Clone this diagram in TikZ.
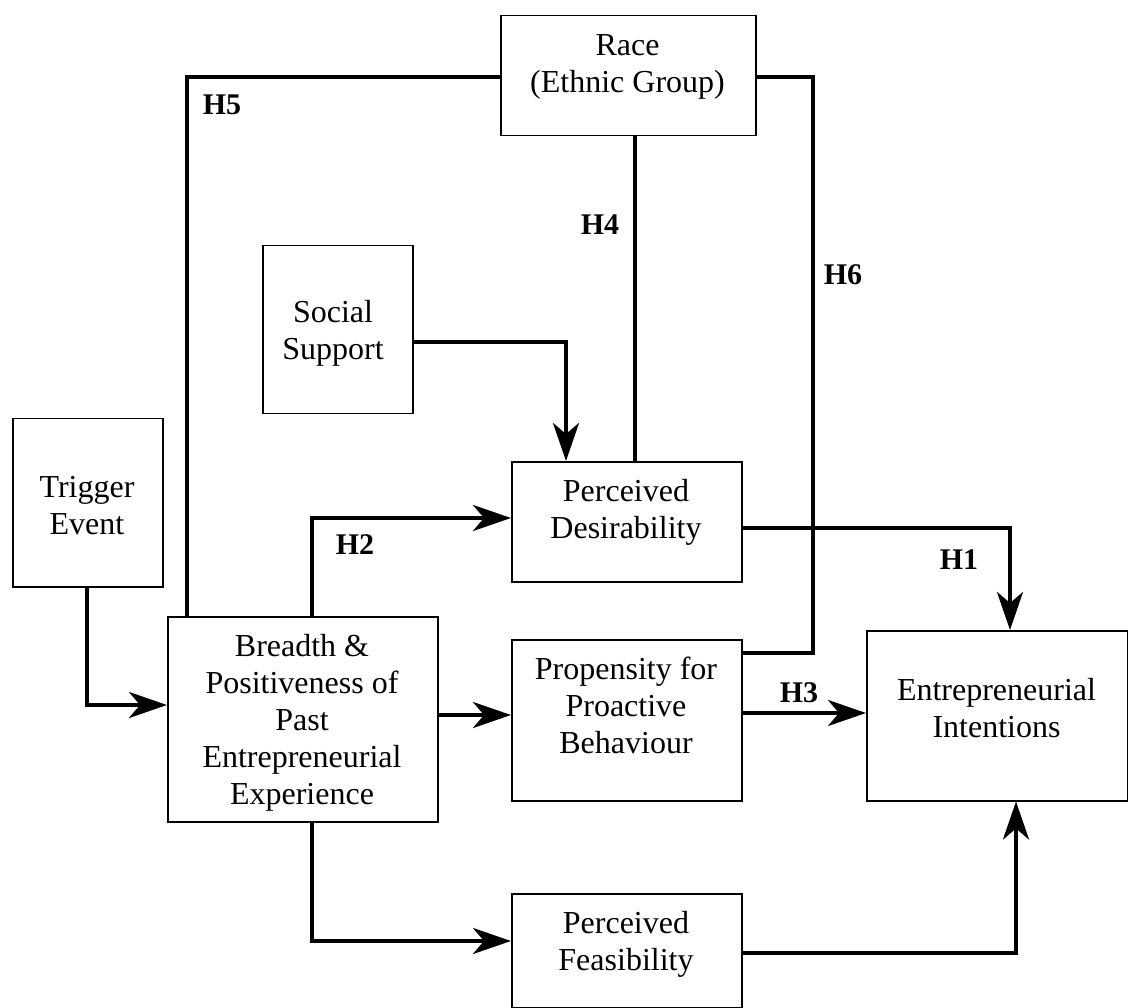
\documentclass[tikz,border=0pt]{standalone}
\usepackage{fontspec}
\setmainfont{Liberation Serif}
\usetikzlibrary{arrows.meta}
\begin{document}
\begin{tikzpicture}[x=1pt,y=-1pt,
  box/.style={draw, line width=1.5pt, inner sep=0pt, anchor=north west},
  txt/.style={align=center, anchor=base, inner sep=0pt, font=\fontsize{32}{37}\selectfont},
  hlab/.style={inner sep=0pt, font=\fontsize{30}{36}\selectfont\bfseries},
  conn/.style={line width=4pt},
  arr/.style={conn, -{Stealth[length=38pt,width=26pt,inset=11pt]}}]
\path[use as bounding box] (0,0) rectangle (1128,1008);
% boxes (text nodes are anchored at the baseline of their last line)
\node[box, minimum width=255pt, minimum height=120pt] (race) at (500,15) {};
\node[txt] (racet) at (627.5,93) {Race\\(Ethnic Group)};
\node[box, minimum width=150pt, minimum height=168pt] (social) at (262,245) {};
\node[txt] (socialt) at (333,360) {Social\\Support};
\node[box, minimum width=150pt, minimum height=168pt] (trigger) at (12,418) {};
\node[txt] (triggert) at (87,534) {Trigger\\Event};
\node[box, minimum width=230pt, minimum height=120pt] (desir) at (511,461) {};
\node[txt] (desirt) at (626,538) {Perceived\\Desirability};
\node[box, minimum width=270pt, minimum height=205pt] (breadth) at (167,616) {};
\node[txt] (breadtht) at (302,804) {Breadth \&\\Positiveness of\\Past\\Entrepreneurial\\Experience};
\node[box, minimum width=230pt, minimum height=161pt] (propens) at (511,639) {};
\node[txt] (propenst) at (626,753) {Propensity for\\Proactive\\Behaviour};
\node[box, minimum width=261pt, minimum height=170pt] (intent) at (866,630) {};
\node[txt] (intentt) at (996.5,737) {Entrepreneurial\\Intentions};
\node[box, minimum width=230pt, minimum height=114pt] (feas) at (511,893) {};
\node[txt] (feast) at (626,970) {Perceived\\Feasibility};
% coordinates
\coordinate (h5c) at (187,77);
\coordinate (h6a) at (813,77);
\coordinate (h6b) at (813,653);
\coordinate (h4c) at (635,0);
\coordinate (ssc) at (566,342);
\coordinate (tc) at (87,705);
\coordinate (h2c) at (312,518);
\coordinate (h1c) at (1010,528);
\coordinate (bpc) at (0,715);
\coordinate (h3c) at (0,713);
\coordinate (bfc) at (312,941);
\coordinate (fic) at (1016,953);
% connectors
\draw[conn] (breadth.north -| h5c) -- (h5c) -- (race.west |- h5c);
\draw[conn] (race.east |- h6a) -- (h6a) -- (h6b) -- (propens.east |- h6b);
\draw[conn] (race.south -| h4c) -- (desir.north -| h4c);
\draw[arr] (social.east |- ssc) -- (ssc) -- (desir.north -| ssc);
\draw[arr] (trigger.south -| tc) -- (tc) -- (breadth.west |- tc);
\draw[arr] (breadth.north -| h2c) -- (h2c) -- (desir.west |- h2c);
\draw[arr] (desir.east |- h1c) -- (h1c) -- (intent.north -| h1c);
\draw[arr] (breadth.east |- bpc) -- (propens.west |- bpc);
\draw[arr] (propens.east |- h3c) -- (intent.west |- h3c);
\draw[arr] (breadth.south -| bfc) -- (bfc) -- (feas.west |- bfc);
\draw[arr] (feas.east |- fic) -- (fic) -- (intent.south -| fic);
% labels
\node[hlab] (h5) at (222,105) {H5};
\node[hlab] (h4) at (600,225) {H4};
\node[hlab] (h6) at (843,275) {H6};
\node[hlab] (h2) at (355,545) {H2};
\node[hlab] (h1) at (959,560) {H1};
\node[hlab] (h3) at (799,693) {H3};
\end{tikzpicture}
\end{document}
